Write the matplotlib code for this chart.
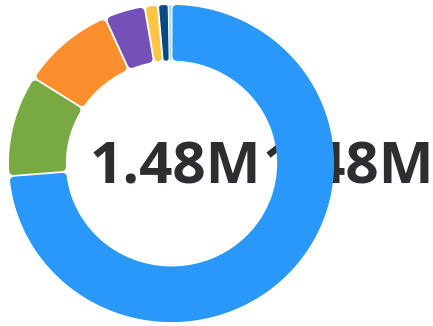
import numpy as np
import matplotlib
matplotlib.use("Agg")
import matplotlib.pyplot as plt
from matplotlib.path import Path
from matplotlib.patches import PathPatch

# ---- data ----
categories = ["A", "B", "C", "D", "E", "F", "G"]
values = [1091000, 152500, 137700, 59600, 19300, 15600, 4100]
colors = ["#2A98F8", "#79A942", "#FB8F2C", "#7451B8", "#FFC445", "#0B4885", "#A9E1F3"]
total = sum(values)
center_label = f"{total/1e6:.2f}M"

W, H = 433, 326
fig = plt.figure(figsize=(W / 100, H / 100), dpi=100)
fig.patch.set_facecolor("white")

# donut bbox in pixels
x0, x1 = 9, 334
y0, y1 = 5, 322
R_PX = (x1 - x0) / 2.0
inner_frac = 0.65

# background axes for the text that sits behind the ring
ax_bg = fig.add_axes([0, 0, 1, 1], zorder=0)
ax_bg.set_xlim(0, W); ax_bg.set_ylim(H, 0); ax_bg.axis("off")

ax = fig.add_axes([x0 / W, (H - y1) / H, (x1 - x0) / W, (y1 - y0) / H], zorder=1)
ax.patch.set_alpha(0)

wedges, _ = ax.pie(values, startangle=90, counterclock=False, radius=1.0,
                   wedgeprops=dict(width=1 - inner_frac, linewidth=0))
ax.set_aspect("auto")
ax.set_xlim(-1, 1); ax.set_ylim(-1, 1)
ax.axis("off")

gap_px = 2.0
round_px = 4.0
px = 1.0 / R_PX  # data units per px
ro, ri = 1.0, inner_frac

for w, c in zip(wedges, colors):
    w.set_visible(False)
    a1, a2 = np.deg2rad(w.theta1), np.deg2rad(w.theta2)
    span = a2 - a1
    half_w_in = ri * np.sin(span / 2) / px  # px
    r = min(round_px, half_w_in - gap_px / 2 - 0.3)
    if r <= 0.3:
        d = 0.0; r = 0.0
    else:
        d = (gap_px / 2 + r) * px
    rr = r * px
    ro2, ri2 = ro - rr, ri + rr
    ao1, ao2 = a1 + np.arcsin(d / ro2), a2 - np.arcsin(d / ro2)
    ai1, ai2 = a1 + np.arcsin(d / ri2), a2 - np.arcsin(d / ri2)
    to = np.linspace(ao1, ao2, 200)
    ti = np.linspace(ai2, ai1, 200)
    verts = np.vstack([np.c_[ro2 * np.cos(to), ro2 * np.sin(to)],
                       np.c_[ri2 * np.cos(ti), ri2 * np.sin(ti)],
                       [[ro2 * np.cos(ao1), ro2 * np.sin(ao1)]]])
    codes = [Path.MOVETO] + [Path.LINETO] * (len(verts) - 2) + [Path.CLOSEPOLY]
    p = PathPatch(Path(verts, codes), facecolor=c, edgecolor=c,
                  linewidth=2 * r * 0.72, joinstyle="round", zorder=2)
    ax.add_patch(p)

font = dict(family=["Open Sans", "DejaVu Sans"], fontweight="bold",
            fontsize=42, color="#2E2E30")
cx_text, base_y = 175, 184
fig.text(cx_text / W, (H - base_y) / H, center_label, ha="center", va="baseline",
         zorder=5, **font)
ax_bg.text(cx_text + 173, base_y, center_label, ha="center", va="baseline",
           clip_on=False, **font)

fig.savefig("out.png", dpi=100, facecolor="white")
